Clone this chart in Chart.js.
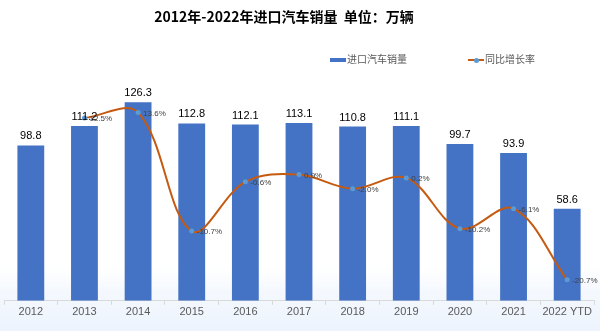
<!DOCTYPE html>
<html>
<head>
<meta charset="utf-8">
<script src="https://cdn.jsdelivr.net/npm/chart.js@4.4.1/dist/chart.umd.min.js"></script>
<style>
  body { margin: 0; background: #fff; }
  .wrap {
    position: relative; width: 600px; height: 331px; overflow: hidden;
    background: linear-gradient(to bottom, #fff 0, #fff 268px, #f4f8fe 292px, #edf4fd 331px);
  }
  .wrap canvas { position: absolute; left: 0; top: 0; }
  .title {
    position: absolute; left: 0; width: 568px; top: 6px; text-align: center;
    font: bold 14px "Noto Sans CJK SC", sans-serif; color: #000;
  }
  .legend {
    position: absolute; top: 51px; font: 10px "Noto Sans CJK SC", sans-serif; color: #595959;
  }
  .legend .bar-key { display: inline-block; width: 16px; height: 4px; background: #4472C4; vertical-align: middle; margin-right: 1px; }
  .legend .line-key { display: inline-block; position: relative; width: 16px; height: 2px; background: #C55A11; vertical-align: middle; margin-right: 1px; }
  .legend .line-key i { position: absolute; left: 6px; top: -1.5px; width: 5px; height: 5px; border-radius: 50%; background: #5B9BD5; }
</style>
</head>
<body>
<div class="wrap">
  <canvas id="importChart" width="600" height="331"></canvas>
  <div class="title">2012年-2022年进口汽车销量&nbsp;&nbsp;单位：万辆</div>
  <div class="legend" style="left:330px"><span class="bar-key"></span>进口汽车销量</div>
  <div class="legend" style="left:468px"><span class="line-key"><i></i></span>同比增长率</div>
</div>
<script>
// ================== Data ==================
const years = ['2012', '2013', '2014', '2015', '2016', '2017', '2018', '2019', '2020', '2021', '2022 YTD'];
const salesVolume = [98.8, 111.2, 126.3, 112.8, 112.1, 113.1, 110.8, 111.1, 99.7, 93.9, 58.6];
const growthRate = [null, 12.5, 13.6, -10.7, -0.6, 0.9, -2.0, 0.2, -10.2, -6.1, -20.7];

// ================== Value labels ==================
const valueLabels = {
  id: 'valueLabels',
  afterDatasetsDraw(chart) {
    const ctx = chart.ctx;
    ctx.save();
    // bar values above each bar
    const bars = chart.getDatasetMeta(0).data;
    ctx.font = '11px "Liberation Sans", Arial, sans-serif';
    ctx.fillStyle = '#000';
    ctx.textAlign = 'center';
    ctx.textBaseline = 'middle';
    bars.forEach((bar, i) => {
      ctx.fillText(salesVolume[i].toFixed(1), bar.x, bar.y - 9);
    });
    // growth rate next to each point
    const pts = chart.getDatasetMeta(1).data;
    ctx.font = '8px "Liberation Sans", Arial, sans-serif';
    ctx.fillStyle = '#404040';
    ctx.textAlign = 'left';
    pts.forEach((pt, i) => {
      if (growthRate[i] === null) return;
      ctx.fillText(growthRate[i].toFixed(1) + '%', pt.x + 5, pt.y + 1);
    });
    ctx.restore();
  }
};

new Chart(document.getElementById('importChart'), {
  data: {
    labels: years,
    datasets: [
      {
        type: 'bar',
        label: '进口汽车销量',
        data: salesVolume,
        backgroundColor: '#4472C4',
        categoryPercentage: 0.5,
        barPercentage: 1,
        yAxisID: 'y',
        order: 1
      },
      {
        type: 'line',
        label: '同比增长率',
        data: growthRate,
        borderColor: '#C55A11',
        borderWidth: 2,
        pointRadius: 2.5,
        pointBackgroundColor: '#5B9BD5',
        pointBorderWidth: 0,
        tension: 0.36,
        yAxisID: 'y2',
        order: 0
      }
    ]
  },
  options: {
    responsive: false,
    animation: false,
    devicePixelRatio: 1,
    layout: { padding: { top: 57, left: 0, right: 6, bottom: 11 } },
    plugins: {
      legend: { display: false },
      title: { display: false },
      tooltip: { enabled: false }
    },
    scales: {
      x: {
        grid: { display: true, drawOnChartArea: false, drawTicks: true, tickLength: 4, color: '#d9d9d9', offset: true },
        border: { color: '#d9d9d9' },
        ticks: {
          color: '#595959', padding: 1, maxRotation: 0, minRotation: 0, autoSkip: false,
          font: { family: '"Liberation Sans", Arial, sans-serif', size: 11 }
        }
      },
      y: { display: false, min: 0, max: 155 },
      y2: { display: false, min: -25, max: 25 }
    }
  },
  plugins: [valueLabels]
});
</script>
</body>
</html>
